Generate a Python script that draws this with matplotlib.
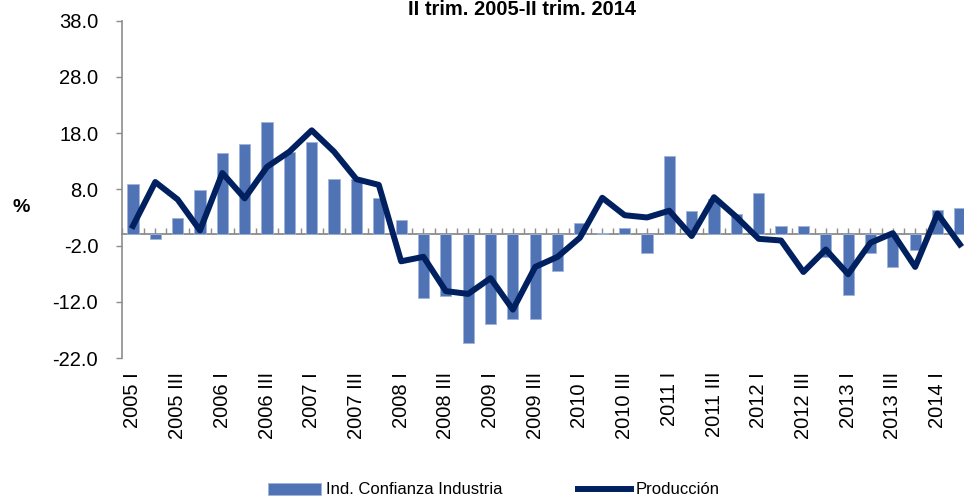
import matplotlib.pyplot as plt
import numpy as np

plt.rcParams['font.family'] = ['Liberation Sans', 'DejaVu Sans']

years = list(range(2005, 2015))
roman = ['I', 'II', 'III', 'IV']
quarters = [f'{y} {r}' for y in years for r in roman][:38]

# Ind. Confianza Industria (bars)
confianza = [9.0, -0.9, 2.9, 7.8, 14.4, 16.1, 19.9, 14.7, 16.5, 9.8,
             9.8, 6.5, 2.5, -11.3, -10.9, -19.3, -16.0, -15.0, -15.0, -6.5,
             2.0, 0.3, 1.1, -3.4, 13.9, 4.1, 6.2, 3.7, 7.4, 1.5,
             1.4, -4.0, -10.8, -3.4, -5.9, -2.8, 4.3, 4.6]

# Produccion (line)
produccion = [1.5, 9.3, 6.2, 0.7, 10.9, 6.4, 12.0, 14.7, 18.5, 14.7,
              9.8, 8.8, -4.8, -4.0, -10.1, -10.6, -7.8, -13.4, -5.8, -4.0,
              -0.6, 6.5, 3.4, 3.0, 4.2, -0.3, 6.6, 3.1, -0.8, -1.1,
              -6.7, -2.7, -7.1, -1.5, 0.2, -5.8, 3.7, -1.8]

yticks = [-22.0, -12.0, -2.0, 8.0, 18.0, 28.0, 38.0]

x = np.arange(len(quarters))
grey = '#8c8c8c'

fig = plt.figure(figsize=(9.64, 5.0), dpi=100)
ax = fig.add_axes([0.1263, 0.284, 0.881, 0.6746])

bars = ax.bar(x, confianza, width=0.5, color='#4F73B5', edgecolor='#9fb4da',
              linewidth=0.6, zorder=2)
line, = ax.plot(x, produccion, color='#002060', linewidth=4.3, zorder=4)

ax.set_xlim(-0.5, 37.5)
ax.set_ylim(-22, 38)
ax.set_yticks(yticks)
ax.set_yticklabels([f'{v:.1f}' for v in yticks])
ax.set_xticks(x[::2])
ax.set_xticklabels(quarters[::2], rotation=90, va='top', ha='center')

for side in ['top', 'right', 'bottom']:
    ax.spines[side].set_visible(False)
ax.spines['left'].set_color(grey)
ax.spines['left'].set_linewidth(1.2)
ax.tick_params(axis='y', length=4, width=1, color=grey, pad=13,
               labelsize=14.5)
ax.tick_params(axis='x', length=0, pad=10, labelsize=14.5)

# axis line crossing at zero with small ticks
sec = ax.secondary_xaxis(22 / 60)
sec.set_xticks(np.arange(-0.5, 38, 0.5))
sec.tick_params(direction='in', length=4, width=1, color=grey,
                labelbottom=False)
sec.spines['bottom'].set_color(grey)
sec.spines['bottom'].set_linewidth(1.3)

fig.text(522 / 964, 1 - 15 / 500, 'II trim. 2005-II trim. 2014',
         ha='center', va='baseline', fontsize=14.5, fontweight='bold')
fig.text(21 / 964, 1 - 208 / 500, '%', ha='center', va='center',
         fontsize=14, fontweight='bold')

fig.legend([bars, line], ['Ind. Confianza Industria', 'Producción'],
           loc='center', bbox_to_anchor=(494 / 964, 1 - 490 / 500),
           ncol=2, frameon=False, fontsize=12, handlelength=3.2,
           handletextpad=0.3, columnspacing=4.5)

fig.savefig('out.png', dpi=100)
